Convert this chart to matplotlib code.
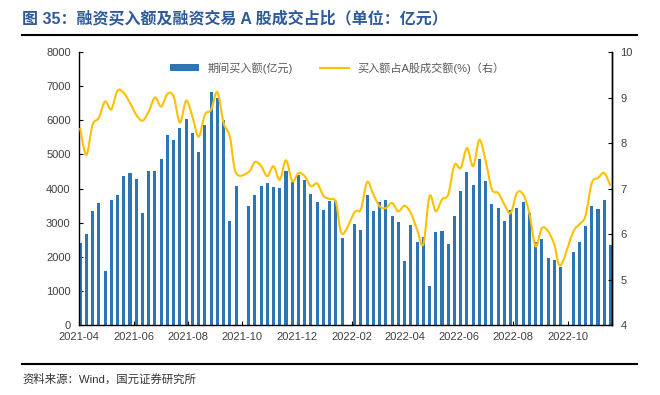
import numpy as np
import pandas as pd
import matplotlib
matplotlib.use("Agg")
import matplotlib.pyplot as plt
import matplotlib.dates as mdates
from matplotlib.path import Path
from matplotlib.patches import PathPatch, Patch
from matplotlib.lines import Line2D

plt.rcParams['font.family'] = ['Liberation Sans', 'Noto Sans CJK SC', 'DejaVu Sans']

# weekly slots, Apr 2021 - Nov 2022 (None = holiday week, no data)
weeks = pd.date_range('2021-04-02', periods=86, freq='7D')

buy_amt = [2410, 2680, 3330, 3570, 1590, 3665, 3800, 4376, 4454, 4279,
           3275, 4513, 4503, 4864, 5565, 5409, 5770, 6023, 5624, 5078,
           5848, 6823, 6657, 5994, 3051, 4074, None,
           3499, 3811, 4074, 4152, 4035, 4006, 4513, 4201, 4405, 4259,
           3840, 3606, 3372, 3626, 3635, 2554, None,
           2963, 2778, 3801, 3333, 3606, 3665, 3197, 3031, 1881, 2943,
           2427, 2593, 1140, 2729, 2758, 2388, 3197, 3928, 4483, 4113,
           4854, 4230, 3548, 3431, 3041, 3372, 3421, 3616, 3275, 2446,
           2515, 1969, 1891, 1696, None,
           2134, 2446, 2904, 3480, 3411, 3655, 2349]

buy_pct = [8.33, 7.74, 8.40, 8.55, 8.91, 8.74, 9.15, 9.10, 8.88, 8.62,
           8.49, 8.69, 9.00, 8.80, 9.08, 9.02, 8.45, 8.93, 8.58, 8.14,
           8.62, 8.73, 9.12, 8.44, 8.14, 7.34, None,
           7.36, 7.58, 7.50, 7.27, 7.49, 7.19, 7.62, 7.16, 7.34, 7.27,
           7.05, 7.11, 6.84, 6.77, 6.70, 6.00, None,
           6.48, 6.54, 7.14, 6.87, 6.61, 6.57, 6.68, 6.50, 6.62, 6.46,
           6.10, 5.77, 6.83, 6.50, 6.76, 6.87, 7.52, 7.45, 7.89, 7.49,
           8.07, 7.60, 6.98, 6.90, 6.65, 6.46, 6.90, 6.87, 6.46, 5.73,
           6.13, 6.06, 5.77, 5.31, None,
           6.04, 6.21, 6.40, 7.12, 7.23, 7.34, 7.06]

bar_label = '期间买入额(亿元)'
line_label = '买入额占A股成交额(%)（右）'
title = '图 35：融资买入额及融资交易 A 股成交占比（单位：亿元）'
source = '资料来源：Wind，国元证券研究所'

BLUE = '#2E75B6'
GOLD = '#FFC000'
TICK = '#404040'


def smooth_path(xs, ys):
    # Excel-like smoothed line: cubic bezier through the points
    pts = np.column_stack([xs, ys])
    n = len(pts)
    verts = [pts[0]]
    codes = [Path.MOVETO]
    for i in range(n - 1):
        p0 = pts[i - 1] if i > 0 else pts[i]
        p1 = pts[i]
        p2 = pts[i + 1]
        p3 = pts[i + 2] if i + 2 < n else pts[i + 1]
        verts += [p1 + (p2 - p0) / 6, p2 - (p3 - p1) / 6, p2]
        codes += [Path.CURVE4] * 3
    return Path(verts, codes)


x = mdates.date2num(weeks)
amt = np.array([np.nan if v is None else v for v in buy_amt], dtype=float)
pct = np.array([np.nan if v is None else v for v in buy_pct], dtype=float)

fig = plt.figure(figsize=(6.6, 3.95), dpi=100)
ax = fig.add_axes([79 / 660, 1 - 325 / 395, 533 / 660, 273 / 395])
ax2 = ax.twinx()

ok = ~np.isnan(amt)
ax.bar(x[ok], amt[ok], width=3.4, color=BLUE, zorder=2)
ax.set_ylim(0, 8000)
ax.set_yticks(np.arange(0, 8001, 1000))
ax.set_xlim(x[0] - 1.2, x[-1] + 1.7)
ax.xaxis.set_major_locator(mdates.MonthLocator(bymonth=[2, 4, 6, 8, 10, 12]))
ax.xaxis.set_major_formatter(mdates.DateFormatter('%Y-%m'))

ok2 = ~np.isnan(pct)
ax2.add_patch(PathPatch(smooth_path(x[ok2], pct[ok2]), facecolor='none',
                        edgecolor=GOLD, lw=1.5, zorder=3))
ax2.set_ylim(4, 10)
ax2.set_yticks(np.arange(4, 11, 1))

for a in (ax, ax2):
    a.spines['top'].set_visible(False)
    for s in a.spines.values():
        s.set_linewidth(1.0)
        s.set_color('black')
ax2.spines['left'].set_visible(False)
ax2.spines['bottom'].set_visible(False)

ax.tick_params(axis='y', direction='in', length=3, labelsize=8, labelcolor=TICK, pad=6)
ax.tick_params(axis='x', direction='in', length=3, labelsize=8, labelcolor=TICK, pad=5)
ax2.tick_params(axis='y', direction='in', length=3, labelsize=8, labelcolor=TICK, pad=6)

handles = [Patch(facecolor=BLUE, edgecolor='none'), Line2D([], [], color=GOLD, lw=1.5)]
ax2.legend(handles, [bar_label, line_label], loc='upper center',
           bbox_to_anchor=(0.485, 1.0), ncol=2, frameon=False, fontsize=8,
           handlelength=2.6, handleheight=0.6, columnspacing=2.4,
           labelcolor='#595959')

fig.text(22 / 660, 1 - 18 / 395, title, color='#2E5A9C', fontsize=11.5,
         fontweight='bold', va='center', ha='left')
fig.add_artist(Line2D([22 / 660, 637 / 660], [1 - 35 / 395] * 2, color='black', lw=1.5))
fig.add_artist(Line2D([22 / 660, 637 / 660], [1 - 364 / 395] * 2, color='black', lw=1.5))
fig.text(22 / 660, 1 - 379 / 395, source, color='#333333', fontsize=8.2,
         va='center', ha='left')

fig.savefig('out.png', dpi=100)
